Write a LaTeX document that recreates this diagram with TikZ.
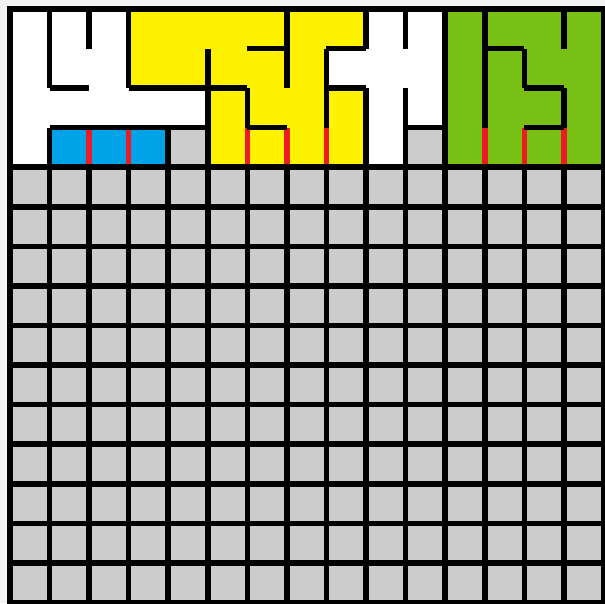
\documentclass[tikz,border=0pt]{standalone}
\usepackage{tikz}
\definecolor{pyellow}{HTML}{FFF200}
\definecolor{pblue}{HTML}{00A2E8}
\definecolor{pgreen}{HTML}{79C015}
\definecolor{pred}{HTML}{ED1C24}
\definecolor{floorgrey}{HTML}{CCCCCC}
\definecolor{margingrey}{HTML}{F2F2F2}
\tikzset{
  wall/.style={line width=0.14cm,line cap=butt},
  border/.style={line width=0.14cm,line join=miter},
  seam/.style={line width=0.14cm,draw=pred},
}

\begin{document}
\begin{tikzpicture}[x=1cm,y=-1cm]
  \useasboundingbox[fill=margingrey] (-0.253,-0.228) rectangle (15.04,15.02);
  % regions of the top band
  \fill[white] (0,0) rectangle (15,4);
  \fill[pyellow] (3,0) rectangle (9,1) (3,1) rectangle (8,2) (5,2) rectangle (9,4);
  \fill[pblue] (1,3) rectangle (4,4);
  \fill[pgreen] (11,0) rectangle (15,4);
  \fill[floorgrey] (4,3) rectangle (5,4) (10,3) rectangle (11,4) (0,4) rectangle (15,15);
  % red seams
  \foreach \x in {2,3,6,7,8,12,13,14}
    \draw[seam] (\x,3) -- (\x,4);
  % walls, one edge at a time
  \draw[wall] (1,0) -- (1,2) (1,2) -- (2,2);
  \draw[wall] (2,0) -- (2,1);
  \draw[wall] (3,0) -- (3,2) (3,2) -- (6,2) (6,2) -- (6,3) (6,3) -- (7,3);
  \draw[wall] (6,1) -- (7,1);
  \draw[wall] (7,0) -- (7,2);
  \draw[wall] (5,1) -- (5,4);
  \draw[wall] (1,3) -- (1,4) (1,3) -- (5,3);
  \draw[wall] (4,3) -- (4,4);
  \draw[wall] (9,0) -- (9,1) (9,1) -- (8,1) (8,1) -- (8,3);
  \draw[wall] (8,2) -- (9,2) (9,2) -- (9,4);
  \draw[wall] (10,0) -- (10,1);
  \draw[wall] (10,2) -- (10,4);
  \draw[wall] (10,3) -- (11,3);
  \draw[wall] (11,0) -- (11,4);
  \draw[wall] (12,0) -- (12,3);
  \draw[wall] (12,1) -- (13,1) (13,1) -- (13,2) (13,2) -- (14,2) (14,2) -- (14,3) (14,3) -- (13,3);
  \draw[wall] (14,0) -- (14,1);
  % grid of the lower part
  \foreach \i in {1,...,14}
    \draw[wall] (\i,4) -- (\i,15);
  \foreach \j in {4,...,14}
    \draw[wall] (0,\j) -- (15,\j);
  \draw[border] (0,0) rectangle (15,15);
\end{tikzpicture}
\end{document}
